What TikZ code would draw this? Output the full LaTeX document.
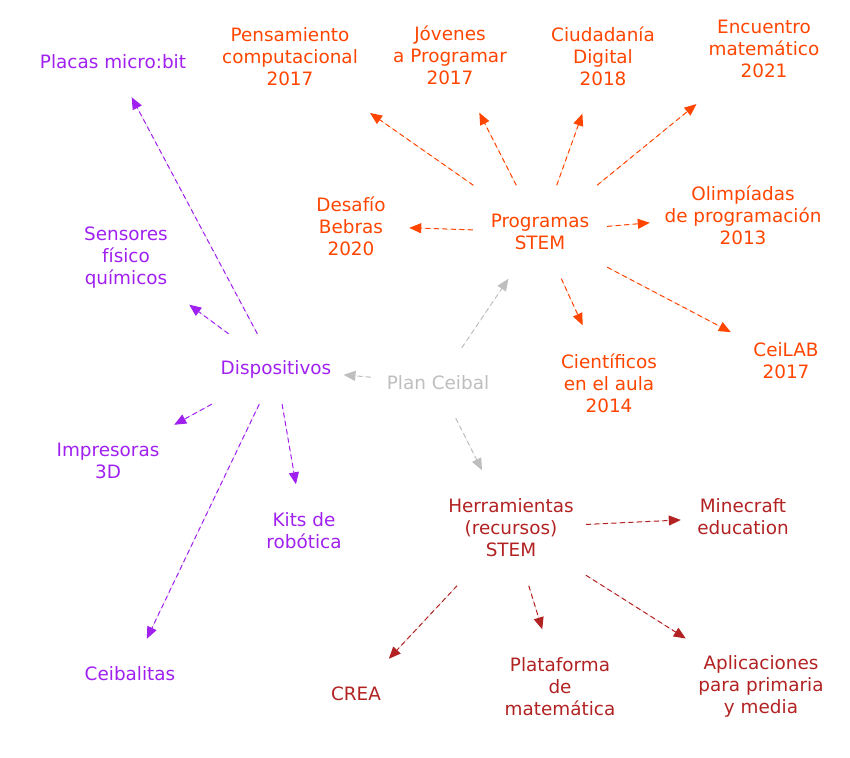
\documentclass[tikz,border=0pt]{standalone}
\usepackage{fontspec}
\setmainfont{DejaVu Sans}
\usetikzlibrary{arrows.meta}
\definecolor{cpurple}{HTML}{A020F0}
\definecolor{corange}{HTML}{FF4500}
\definecolor{cred}{HTML}{B22222}
\definecolor{cgray}{HTML}{BEBEBE}
\begin{document}
\begin{tikzpicture}[x=1pt,y=-1pt,
  every node/.style={font=\fontsize{18.4}{22}\selectfont, align=center, inner xsep=12pt, inner ysep=0pt, minimum width=100pt},
  hub/.style={minimum width=134pt},
  nA/.style={minimum height=70pt},
  nB/.style={minimum height=93pt},
  nC/.style={minimum height=115pt},
  conn/.style={line width=1pt, dash pattern=on 5pt off 3.5pt, -{Triangle[length=12pt,width=10pt]}},
  gcon/.style={conn, draw=cgray, fill=cgray},
  ocon/.style={conn, draw=corange, fill=corange},
  pcon/.style={conn, draw=cpurple, fill=cpurple},
  rcon/.style={conn, draw=cred, fill=cred},
  gt/.style={text=cgray},
  ot/.style={text=corange},
  pt/.style={text=cpurple},
  rt/.style={text=cred}]
\useasboundingbox (0,0) rectangle (850,757);
% hubs
\node[hub,nA,gt] (plan) at (438,383) {Plan Ceibal};
\node[hub,nB,ot] (prog) at (540,232) {Programas\\STEM};
\node[hub,nA,pt] (disp) at (276,369) {Dispositivos};
\node[hub,nC,rt] (herr) at (511,528) {Herramientas\\(recursos)\\STEM};
% programas
\node[nC,ot] (pens) at (290,57) {Pensamiento\\computacional\\2017};
\node[nC,ot] (jov) at (450,55) {Jóvenes\\a Programar\\2017};
\node[nC,ot] (ciud) at (603,56) {Ciudadanía\\Digital\\2018};
\node[nC,ot] (enc) at (764,49) {Encuentro\\matemático\\2021};
\node[nC,ot,minimum width=186pt] (olim) at (743,215) {Olimpíadas\\de programación\\2013};
\node[nB,ot,minimum width=110pt] (ceil) at (786,361) {CeiLAB\\2017};
\node[nC,ot] (cien) at (609,383) {Científicos\\en el aula\\2014};
\node[nC,ot,minimum width=116pt] (desa) at (351,226) {Desafío\\Bebras\\2020};
% dispositivos
\node[nA,pt] (plac) at (113,62) {Placas micro:bit};
\node[nC,pt,minimum width=126pt] (sens) at (126,258) {Sensores\\físico\\químicos};
\node[nB,pt,minimum width=132pt] (impr) at (108,461) {Impresoras\\3D};
\node[nB,pt] (kits) at (304,531) {Kits de\\robótica};
\node[nA,pt] (ceib) at (130,674) {Ceibalitas};
% herramientas
\node[nB,rt,minimum width=124pt] (mine) at (743,517) {Minecraft\\education};
\node[nA,rt] (crea) at (356,694) {CREA};
\node[nC,rt] (plat) at (560,687) {Plataforma\\de\\matemática};
\node[nC,rt,minimum width=150pt] (apli) at (761,686) {Aplicaciones\\para primaria\\y media};
% edges
\draw[gcon] (plan) -- (prog);
\draw[gcon] (plan) -- (disp);
\draw[gcon] (plan) -- (herr);
\foreach \t in {pens,jov,ciud,enc,olim,ceil,cien,desa} \draw[ocon] (prog) -- (\t);
\foreach \t in {plac,sens,impr,kits,ceib} \draw[pcon] (disp) -- (\t);
\foreach \t in {mine,crea,plat,apli} \draw[rcon] (herr) -- (\t);
\end{tikzpicture}
\end{document}
